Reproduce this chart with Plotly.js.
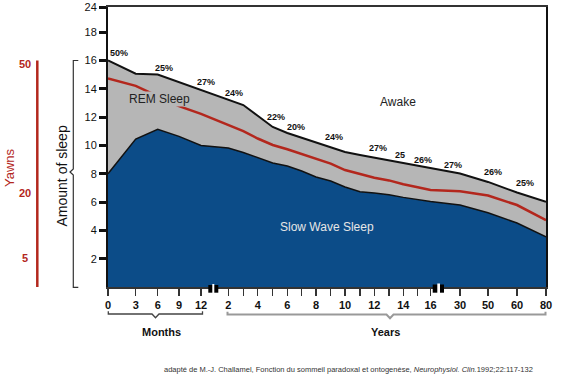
<!DOCTYPE html>
<html><head><meta charset="utf-8">
<script src="https://cdn.plot.ly/plotly-3.0.1.min.js"></script>
<style>html,body{margin:0;padding:0;background:#fff}#chart{width:580px;height:383px}</style>
</head><body><div id="chart"></div>
<script>
// ---- data ----
const ageLabels = ['0','3','6','9','12','2','3','4','5','6','7','8','9','10','11','12','13','14','15','16','30','50','60','80'];
const tickText  = ['0','3','6','9','12','2','','4','','6','','8','','10','','12','','14','','16','30','50','60','80'];
// position of each age on the broken x axis (axis units)
const tickPos   = [0,27.7,49.7,71,93,120.3,135.3,149.7,164.7,179.3,193.7,208,222.7,237,252,266.3,281,295.3,309.7,322.5,352,380,409,438];
const totalSleep    = [16.0,15.06,15.01,14.46,13.91,13.23,12.85,12.09,11.3,10.88,10.54,10.2,9.82,9.53,9.32,9.13,8.93,8.74,8.55,8.38,8.02,7.42,6.67,6.02];
const slowWaveSleep = [8.0,10.45,11.14,10.64,9.99,9.82,9.5,9.11,8.76,8.55,8.19,7.77,7.49,7.06,6.73,6.64,6.51,6.33,6.16,6.04,5.79,5.24,4.52,3.55];
const yawns         = [46.6,44.9,42.5,40.2,38.4,35.9,34.4,32.7,31.2,30.2,29.1,28.0,26.9,25.4,24.4,23.6,23.0,22.1,21.4,20.8,20.5,19.5,17.3,13.8];
const yTickVals = [2,4,6,8,10,12,14,16,18,19.77];
const yTickText = ['2','4','6','8','10','12','14','16','18','24'];
const yawnTicks = [50,20,5];
const remPctText = ['50%','25%','27%','24%','22%','20%','24%','27%','25','26%','27%','26%','25%'];
const remPctX    = [11,56,98,126,168,188,226,269.5,292,315,344.5,384.5,416.5];
const remPctY    = [16.53,15.47,14.51,13.67,12.0,11.3,10.56,9.79,9.32,8.95,8.65,8.14,7.32];

// ---- styling ----
const FONT = 'Liberation Sans, Arial, Helvetica, sans-serif';
const BLUE = '#0c4c88', GRAY = '#b6b6b6', RED = '#b3271d';
const L = 108, T = 7, W = 438, H = 280;
const px = v => (v - L) / W;        // pixel -> paper x
const py = v => (T + H - v) / H;    // pixel -> paper y

const traces = [
  {x: tickPos, y: slowWaveSleep, type: 'scatter', mode: 'lines', fill: 'tozeroy',
   fillcolor: BLUE, line: {color: '#111', width: 1.5}, hoverinfo: 'skip', name: 'Slow Wave Sleep'},
  {x: tickPos, y: totalSleep, type: 'scatter', mode: 'lines', fill: 'tonexty',
   fillcolor: GRAY, line: {color: '#111', width: 2}, hoverinfo: 'skip', name: 'REM Sleep'},
  {x: tickPos, y: yawns, yaxis: 'y2', type: 'scatter', mode: 'lines',
   line: {color: RED, width: 2.5}, hoverinfo: 'skip', name: 'Yawns'}
];

const C = {xanchor: 'center', yanchor: 'middle', showarrow: false};
const annotations = [];
remPctText.forEach((t, i) => annotations.push(Object.assign({x: remPctX[i], y: remPctY[i], xref: 'x', yref: 'y', text: t,
  font: {family: FONT, size: 9, color: '#111', weight: 'bold'}}, C)));
annotations.push(Object.assign({x: 51, y: 13.31, xref: 'x', yref: 'y', text: 'REM Sleep',
  bgcolor: GRAY, borderpad: 0, font: {family: FONT, size: 12, color: '#222'}}, C));
annotations.push(Object.assign({x: 289.5, y: 13.05, xref: 'x', yref: 'y', text: 'Awake',
  font: {family: FONT, size: 12, color: '#222'}}, C));
annotations.push(Object.assign({x: 218.5, y: 4.24, xref: 'x', yref: 'y', text: 'Slow Wave Sleep',
  font: {family: FONT, size: 12, color: '#e6e6e6'}}, C));
yawnTicks.forEach(v => annotations.push(Object.assign({x: px(25.3), y: v, xref: 'paper', yref: 'y2', text: String(v),
  font: {family: FONT, size: 11, color: RED, weight: 'bold'}}, C)));
annotations.push(Object.assign({x: px(9.5), y: py(167.5), xref: 'paper', yref: 'paper', text: 'Yawns', textangle: -90,
  font: {family: FONT, size: 13, color: RED}}, C));
annotations.push(Object.assign({x: px(61), y: py(176.5), xref: 'paper', yref: 'paper', text: 'Amount of sleep', textangle: -90,
  font: {family: FONT, size: 14, color: '#111'}}, C));
annotations.push(Object.assign({x: px(161.7), y: py(331.7), xref: 'paper', yref: 'paper', text: 'Months',
  font: {family: FONT, size: 11, color: '#111', weight: 'bold'}}, C));
annotations.push(Object.assign({x: px(385), y: py(331.7), xref: 'paper', yref: 'paper', text: 'Years',
  font: {family: FONT, size: 11, color: '#111', weight: 'bold'}}, C));
annotations.push(Object.assign({x: px(161.7), y: py(369), xref: 'paper', yref: 'paper',
  text: 'adapté de M.-J. Challamel, Fonction du sommeil paradoxal et ontogenèse, <i>Neurophysiol. Clin.</i>1992;22:117-132',
  font: {family: FONT, size: 7.5, color: '#333'}}, C, {xanchor: 'left'}));

function pathOf(pts) {
  return pts.map((p, i) => (i ? 'L' : 'M') + px(p[0]).toFixed(5) + ',' + py(p[1]).toFixed(5)).join(' ');
}
const shapes = [
  // red yawns axis line
  {type: 'line', xref: 'paper', yref: 'paper', x0: px(37.3), x1: px(37.3), y0: py(60.5), y1: py(287),
   line: {color: RED, width: 2.5}},
  // bracket for amount of sleep
  {type: 'path', xref: 'paper', yref: 'paper', line: {color: '#333', width: 1.2},
   path: pathOf([[78.3,60.5],[73.3,60.5],[73.3,169],[70,172],[73.3,175],[73.3,287.3],[78.3,287.3]])},
  // months bracket
  {type: 'path', xref: 'paper', yref: 'paper', line: {color: '#444', width: 1.3},
   path: pathOf([[108.3,311.3],[108.3,314],[152,314],[155.5,317.8],[159,314],[202.5,314],[202.5,311.3]])},
  // years bracket
  {type: 'path', xref: 'paper', yref: 'paper', line: {color: '#999', width: 2},
   path: pathOf([[227.5,311.8],[227.5,314.5],[386.5,314.5],[390,318.3],[393.5,314.5],[545.5,314.5],[545.5,311.8]])},
  // axis breaks
  {type: 'rect', xref: 'paper', yref: 'paper', x0: px(208.3), x1: px(218.3), y0: py(285), y1: py(292.7),
   fillcolor: '#000', line: {width: 0}},
  {type: 'rect', xref: 'paper', yref: 'paper', x0: px(212.3), x1: px(214.3), y0: py(284), y1: py(293.5),
   fillcolor: '#fff', line: {width: 0}},
  {type: 'rect', xref: 'paper', yref: 'paper', x0: px(432.7), x1: px(444), y0: py(284.5), y1: py(292.7),
   fillcolor: '#000', line: {width: 0}},
  {type: 'rect', xref: 'paper', yref: 'paper', x0: px(437.3), x1: px(440), y0: py(283.5), y1: py(293.5),
   fillcolor: '#fff', line: {width: 0}}
];

const layout = {
  width: 580, height: 383,
  margin: {l: L, r: 580 - L - W, t: T, b: 383 - T - H, pad: 0},
  paper_bgcolor: '#fff', plot_bgcolor: '#fff',
  showlegend: false,
  font: {family: FONT, color: '#111'},
  xaxis: {range: [0, 438], tickmode: 'array', tickvals: tickPos, ticktext: tickText,
    showgrid: false, zeroline: false, showline: true, linecolor: '#333', linewidth: 2, mirror: true,
    ticks: 'outside', ticklen: 7, tickwidth: 1.5, tickcolor: '#333',
    tickfont: {family: FONT, size: 11, color: '#111', weight: 'bold'}, fixedrange: true},
  yaxis: {range: [0, 19.774], tickmode: 'array', tickvals: yTickVals, ticktext: yTickText,
    showgrid: false, zeroline: false, showline: true, linecolor: '#111', linewidth: 2, mirror: true,
    ticks: 'outside', ticklen: 7, tickwidth: 3, tickcolor: '#111',
    tickfont: {family: FONT, size: 11, color: '#111'}, fixedrange: true},
  yaxis2: {overlaying: 'y', range: [-1.68, 63.15], visible: false, fixedrange: true},
  annotations: annotations,
  shapes: shapes
};

Plotly.newPlot('chart', traces, layout, {staticPlot: true, displayModeBar: false});
</script></body></html>
